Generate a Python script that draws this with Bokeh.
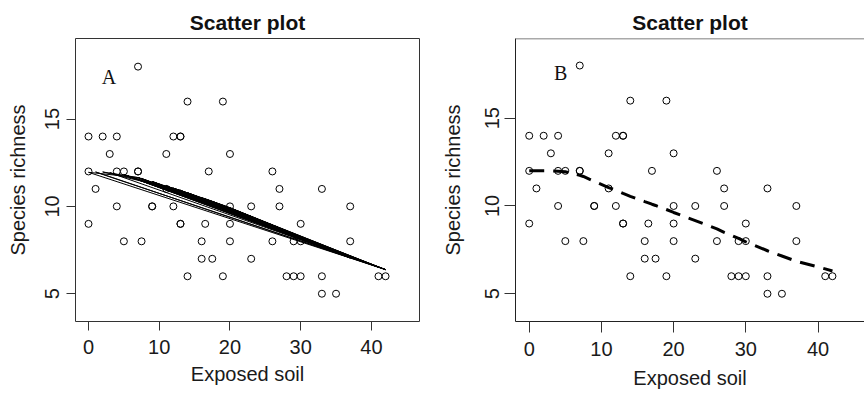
from bokeh.plotting import figure
from bokeh.layouts import row
from bokeh.models import FixedTicker, Range1d, Span, Label
from bokeh.embed import file_html
from bokeh.resources import INLINE

# ---- data: exposed soil (x) vs species richness (y) ----
soil = [7, 14, 19,
        0, 2, 4, 12, 13, 13,
        3, 11, 20,
        0, 4, 5, 7, 7, 17, 26,
        1, 11, 27, 33,
        4, 9, 9, 12, 20, 23, 27, 37,
        0, 13, 13, 16.5, 20, 30,
        5, 7.5, 16, 20, 26, 29, 30, 37,
        16, 17.5, 23,
        14, 19, 28, 29, 30, 33, 41, 42,
        33, 35]
richness = [18, 16, 16,
            14, 14, 14, 14, 14, 14,
            13, 13, 13,
            12, 12, 12, 12, 12, 12, 12,
            11, 11, 11, 11,
            10, 10, 10, 10, 10, 10, 10, 10,
            9, 9, 9, 9, 9, 9,
            8, 8, 8, 8, 8, 8, 8, 8,
            7, 7, 7,
            6, 6, 6, 6, 6, 6, 6, 6,
            5, 5]

# distinct exposed-soil values
fit_x = [0, 1, 2, 3, 4, 5, 7, 7.5, 9, 11, 12, 13, 14, 16, 16.5, 17, 17.5,
         19, 20, 23, 26, 27, 28, 29, 30, 33, 35, 37, 41, 42]
# panel A fitted values (loess) at fit_x
fit_a = [11.95, 11.97, 11.97, 11.93, 11.88, 11.82, 11.65, 11.6, 11.42,
         11.17, 11.04, 10.92, 10.78, 10.5, 10.43, 10.36, 10.29, 10.07, 9.92,
         9.42, 8.93, 8.77, 8.6, 8.43, 8.25, 7.72, 7.38, 7.05, 6.52, 6.38]
# panel B fitted values (smoother) at fit_x
fit_b = [12.0, 12.0, 12.0, 12.0, 11.98, 11.95, 11.75, 11.68, 11.4, 11.05,
         10.9, 10.72, 10.55, 10.25, 10.18, 10.1, 10.03, 9.8, 9.63, 9.17,
         8.7, 8.5, 8.33, 8.15, 7.96, 7.45, 7.15, 6.85, 6.42, 6.3]

# panel A: fitted values joined in (unsorted) data order
order_a = [0, 42, 1, 41,
           5, 33, 7, 42, 9, 30, 5, 28, 12, 41, 7, 26, 13, 37, 5, 29, 11,
           33, 7.5, 30, 14, 42, 9, 27, 5, 35, 12, 30, 7, 23, 16, 33, 13, 28,
           5, 20, 11, 29, 17, 37, 9, 19, 14, 27, 19, 30, 12, 23, 16.5, 26,
           20, 33, 17.5, 29, 23, 35, 20, 41, 26, 42, 3, 13, 2, 7, 0]

x_ticks = [0, 10, 20, 30, 40]
y_ticks = [5, 10, 15]
title_text = "Scatter plot"
x_label = "Exposed soil"
y_label = "Species richness"

SANS = "Liberation Sans"
SERIF = "Liberation Serif"


def make_panel(width, height, xr, yr, mb_left, mb_right, mb_top, mb_bottom,
               tick_len, ytick_standoff, xtick_standoff, ylab_standoff,
               xlab_standoff, letter, letter_pos):
    p = figure(width=width, height=height, output_backend="svg",
               toolbar_location=None, x_range=Range1d(*xr),
               y_range=Range1d(*yr), min_border_left=mb_left,
               min_border_right=mb_right, min_border_top=mb_top,
               min_border_bottom=mb_bottom)
    p.title.text = title_text
    p.title.align = "center"
    p.title.text_font = SANS
    p.title.text_font_size = "21px"
    p.title.text_font_style = "bold"
    p.title.text_color = "#111111"
    p.grid.visible = False
    p.background_fill_color = "white"
    p.border_fill_color = "white"
    p.xaxis.ticker = FixedTicker(ticks=x_ticks)
    p.yaxis.ticker = FixedTicker(ticks=y_ticks)
    p.xaxis.axis_label = x_label
    p.yaxis.axis_label = y_label
    p.yaxis.major_label_orientation = "vertical"
    for ax in (p.xaxis, p.yaxis):
        ax.minor_tick_line_color = None
        ax.major_tick_in = 0
        ax.major_tick_out = tick_len
        ax.major_tick_line_color = "#333333"
        ax.major_label_text_font = SANS
        ax.major_label_text_font_size = "20px"
        ax.major_label_text_color = "#1a1a1a"
        ax.axis_label_text_font = SANS
        ax.axis_label_text_font_size = "20px"
        ax.axis_label_text_font_style = "normal"
        ax.axis_label_text_color = "#1a1a1a"
    p.yaxis.major_label_standoff = ytick_standoff
    p.xaxis.major_label_standoff = xtick_standoff
    p.yaxis.axis_label_standoff = ylab_standoff
    p.xaxis.axis_label_standoff = xlab_standoff
    p.scatter(soil, richness, marker="circle", size=7, fill_color=None,
              line_color="black", line_width=1)
    p.add_layout(Label(x=letter_pos[0], y=letter_pos[1], text=letter,
                       text_font=SERIF, text_font_size="20px",
                       text_align="center", text_baseline="middle",
                       text_color="#111111"))
    return p


# ---- panel A ----
pa = make_panel(432, 403, (-1.84, 46.8), (3.41, 19.61), 75, 13, 36, 82,
                9, 7, 9, 14, 6, "A", (2.9, 17.42))
pa.outline_line_color = "#333333"
pa.outline_line_width = 1
pa.xaxis.axis_line_color = None
pa.yaxis.axis_line_color = None
lookup_a = dict(zip(fit_x, fit_a))
pa.line(order_a, [lookup_a[v] for v in order_a], line_color="black",
        line_width=1)

# ---- panel B ----
pb = make_panel(432, 403, (-1.9, 46.44), (3.42, 19.54), 83, 0, 38, 74,
                11, 5, 9, 19, 8, "B", (4.34, 17.55))
pb.outline_line_color = None
pb.xaxis.axis_line_color = "#222222"
pb.yaxis.axis_line_color = "#222222"
pb.add_layout(Span(location=19.54, dimension="width", line_color="#555555",
                   line_width=1.5))
pb.line(fit_x, fit_b, line_color="black", line_width=3, line_dash="15 9")

layout = row(pa, pb)
open("out.html", "w").write(file_html(layout, INLINE))
